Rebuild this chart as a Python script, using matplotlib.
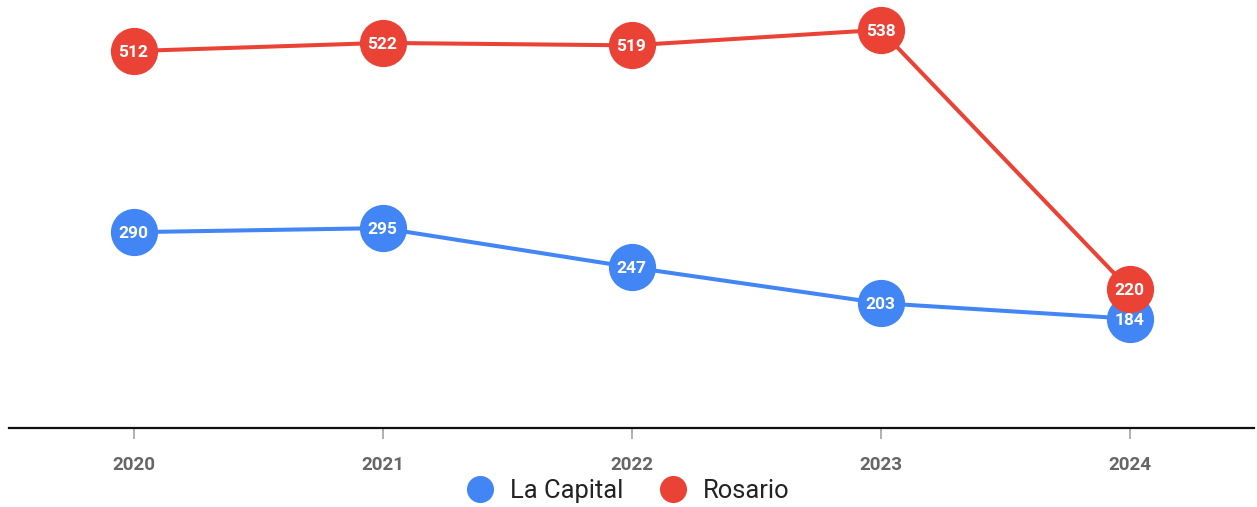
import matplotlib.pyplot as plt
from matplotlib.lines import Line2D

plt.rcParams['font.family'] = ['Roboto', 'DejaVu Sans']

years = ['2020', '2021', '2022', '2023', '2024']
la_capital = [290, 295, 247, 203, 184]
rosario = [512, 522, 519, 538, 220]

blue = '#4285F4'
red = '#EA4335'

fig = plt.figure(figsize=(12.57, 5.07), dpi=100)
ax = fig.add_axes([9 / 1257, 79 / 507, 1245 / 1257, 428 / 507])

x = list(range(len(years)))
for vals, col in [(la_capital, blue), (rosario, red)]:
    ax.plot(x, vals, color=col, lw=2.9, marker='o', markersize=34,
            markeredgewidth=0, solid_capstyle='round')
    for xi, v in zip(x, vals):
        ax.text(xi, v, str(v), color='white', fontsize=12.5, fontweight='bold',
                ha='center', va='center_baseline')

ax.set_xlim(-0.5, 4.5)
ax.set_ylim(50, 574.6)
ax.set_xticks(x)
ax.set_xticklabels(years, fontsize=13.5, fontweight='bold', color='#666666')
ax.tick_params(axis='x', length=8, width=1.3, color='#aaaaaa', pad=12)
ax.set_yticks([])
for s in ['top', 'right', 'left']:
    ax.spines[s].set_visible(False)
ax.spines['bottom'].set_linewidth(1.6)
ax.spines['bottom'].set_color('#111111')

handles = [Line2D([], [], ls='none', marker='o', markersize=19.5, color=blue, markeredgewidth=0),
           Line2D([], [], ls='none', marker='o', markersize=19.5, color=red, markeredgewidth=0)]
fig.legend(handles, ['La Capital', 'Rosario'], loc='center', bbox_to_anchor=(627 / 1257, 1 - 491 / 507),
           ncol=2, frameon=False, fontsize=18.4, labelcolor='#222222',
           handletextpad=0.59, columnspacing=1.33, handlelength=1.2)

fig.savefig('out.png', dpi=100)
